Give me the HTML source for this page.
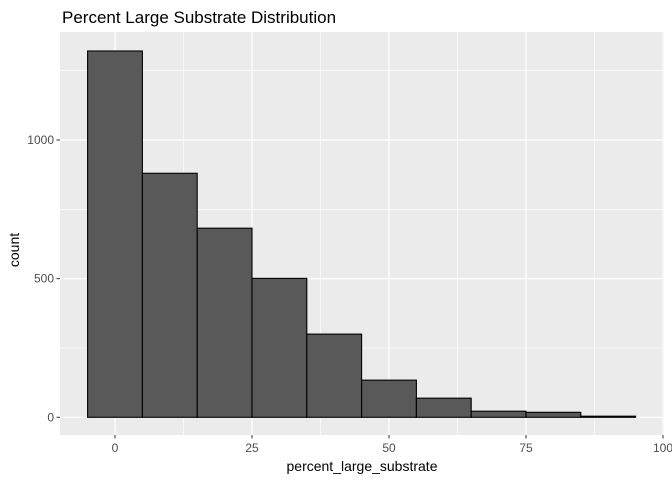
<!DOCTYPE html>
<html><head><meta charset="utf-8"><style>
body{margin:0;background:#fff;}
svg text{font-family:"Liberation Sans",sans-serif;}
</style></head><body>
<svg id="chart" width="672" height="480" xmlns="http://www.w3.org/2000/svg">
<rect x="0" y="0" width="672" height="480" fill="#fff"/>
<text x="62" y="23" font-size="17" fill="#000">Percent Large Substrate Distribution</text>
<rect x="60" y="32" width="604" height="403" fill="#ebebeb"/>
<g id="grid"></g>
<g id="bars"></g>
<g id="axes"></g>
<text x="362" y="471" font-size="14" text-anchor="middle" fill="#000">percent_large_substrate</text>
<text transform="translate(19,250) rotate(-90)" font-size="14" text-anchor="middle" fill="#000">count</text>
</svg>
<script>
const binStarts = [-5,5,15,25,35,45,55,65,75,85];
const binWidth = 10;
const counts = [1321,880,682,501,300,134,69,22,18,4];
const xTicks = [0,25,50,75,100];
const yTicks = [0,500,1000];
const xMinor = [12.5,37.5,62.5,87.5];
const yMinor = [250,750,1250];

const X0 = 115, XS = 5.48;
const Y0 = 417.3, YS = 0.2773;
const px = v => X0 + v*XS;
const py = v => Y0 - v*YS;
const ns = 'http://www.w3.org/2000/svg';
function mk(tag, attrs, parent){const e=document.createElementNS(ns,tag);for(const k in attrs)e.setAttribute(k,attrs[k]);parent.appendChild(e);return e;}
const grid=document.getElementById('grid'), bars=document.getElementById('bars'), axes=document.getElementById('axes');
xMinor.forEach(v=>{const l=mk('line',{x1:px(v),x2:px(v),y1:32,y2:435,stroke:'#fff','stroke-width':0.6},grid);

});
yMinor.forEach(v=>{const l=mk('line',{x1:60,x2:664,y1:py(v),y2:py(v),stroke:'#fff','stroke-width':0.6},grid);

});
xTicks.forEach(v=>{const l=mk('line',{x1:px(v),x2:px(v),y1:32,y2:435,stroke:'#fff','stroke-width':1.2},grid);


const t=mk('line',{x1:px(v),x2:px(v),y1:435,y2:438.5,stroke:'#333','stroke-width':1},axes);


const tx=mk('text',{x:px(v),y:452,'font-size':12,'text-anchor':'middle',fill:'#4d4d4d'},axes);
tx.textContent=v;

});
yTicks.forEach(v=>{const l=mk('line',{x1:60,x2:664,y1:py(v),y2:py(v),stroke:'#fff','stroke-width':1.2},grid);


const t=mk('line',{x1:56.5,x2:60,y1:py(v),y2:py(v),stroke:'#333','stroke-width':1},axes);


const tx=mk('text',{x:54,y:py(v)+4,'font-size':12,'text-anchor':'end',fill:'#4d4d4d'},axes);
tx.textContent=v;

});
counts.forEach((c,i)=>{const x1=px(binStarts[i]),x2=px(binStarts[i]+binWidth);
const r=mk('rect',{x:x1,y:py(c),width:x2-x1,height:Y0-py(c),fill:'#595959',stroke:'#000','stroke-width':1.1},bars);

});
</script>
</body></html>
